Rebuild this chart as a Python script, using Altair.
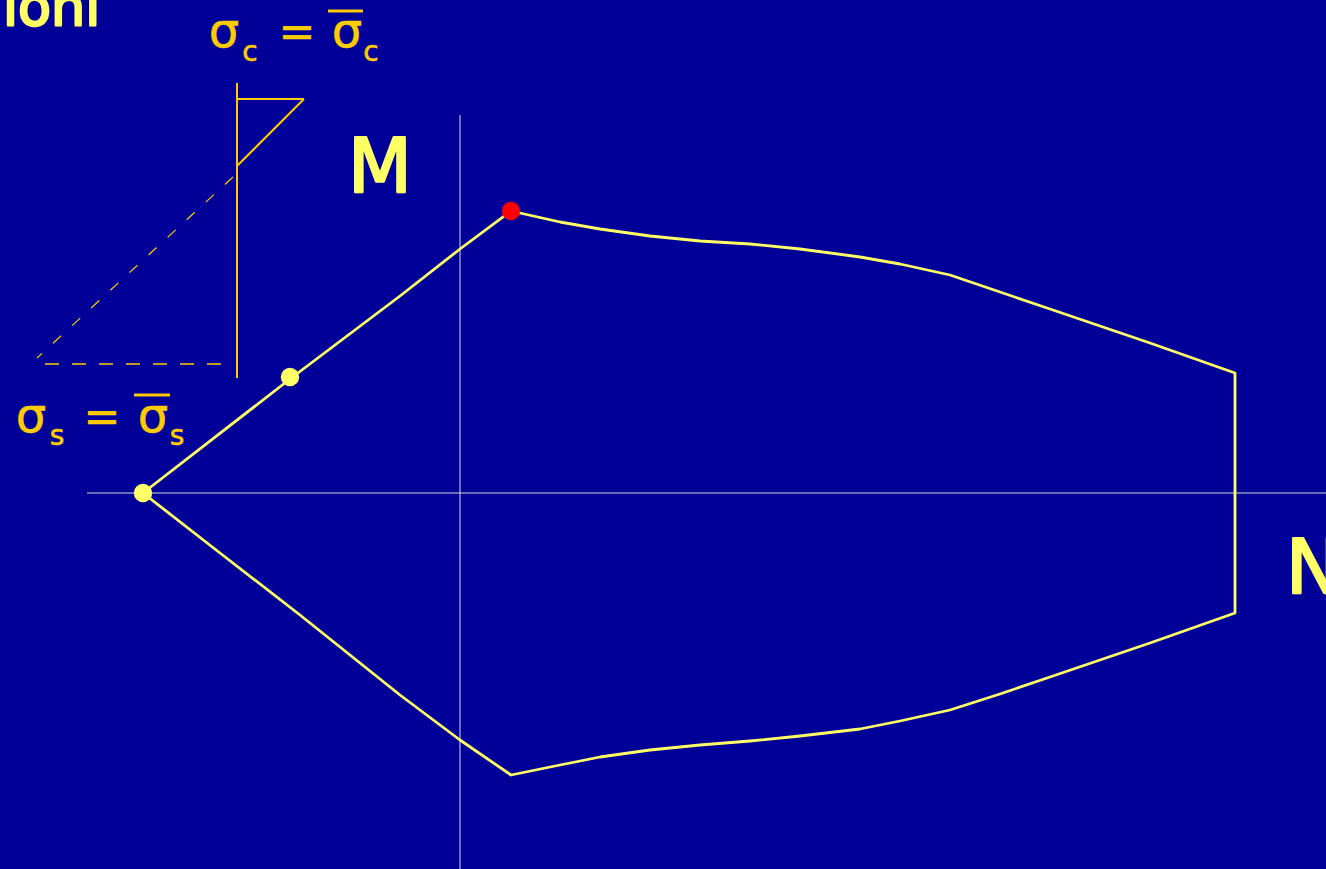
import altair as alt
import pandas as pd

# Interaction domain boundary in the (N, M) plane, walked clockwise from the
# pure-tension corner on the left
dom_n = [-3.17, -1.70, -0.60, 0.00, 0.51, 1.00, 1.40, 1.90, 2.40, 2.90, 3.40,
         4.00, 4.40, 4.90, 5.40, 5.90, 6.40, 6.90, 7.75, 7.75, 6.90, 6.40,
         5.90, 5.40, 4.90, 4.40, 4.00, 3.40, 2.90, 2.40, 1.90, 1.40, 1.00,
         0.51, 0.00, -0.60, -1.60, -2.40, -3.17]
dom_m = [0.00, 1.14, 1.97, 2.44, 2.82, 2.71, 2.64, 2.57, 2.52, 2.49, 2.44,
         2.36, 2.29, 2.18, 2.01, 1.84, 1.67, 1.50, 1.20, -1.20, -1.50, -1.67,
         -1.84, -2.01, -2.17, -2.28, -2.36, -2.43, -2.48, -2.52, -2.57, -2.64,
         -2.72, -2.82, -2.47, -2.02, -1.22, -0.60, 0.00]

# Marked states on the boundary
pt_n = [-3.17, -1.70, 0.51]
pt_m = [0.00, 1.16, 2.82]
pt_color = ["#FFFF66", "#FFFF66", "#FF0000"]

# Coordinate axes
ax_n1 = [-3.73, 0.00]
ax_n2 = [8.66, 0.00]
ax_m1 = [0.00, 3.78]
ax_m2 = [0.00, -3.76]

# Strain / stress sketch: solid segments
sol_n1 = [-2.23, -2.23, -1.56]
sol_m1 = [4.10, 3.94, 3.94]
sol_n2 = [-2.23, -1.56, -2.23]
sol_m2 = [1.15, 3.94, 3.27]

# Strain / stress sketch: dashed diagonal and dashed base line
dgl_n1, dgl_m1, dgl_n2, dgl_m2 = [-2.27], [3.16], [-4.23], [1.35]
bas_n1, bas_m1, bas_n2, bas_m2 = [-4.15], [1.29], [-2.28], [1.29]

# Overbars on the design strengths
bar_n1 = [-1.32, -3.26]
bar_n2 = [-0.97, -2.90]
bar_m = [4.82, 0.98]

# Labels
lbl_text = ["σ", "c", "=", "σ", "c", "σ", "s", "=", "σ", "s", "M", "N", "ioni"]
lbl_n = [-2.36, -2.10, -1.63, -1.13, -0.89, -4.29, -4.03, -3.58, -3.07, -2.83,
         -0.80, 8.26, -4.57]
lbl_m = [4.46, 4.32, 4.46, 4.46, 4.32, 0.61, 0.48, 0.61, 0.61, 0.48,
         3.01, -1.00, 4.68]
lbl_size = [48, 28, 44, 48, 28, 48, 28, 44, 48, 28, 74, 74, 54]
lbl_kind = ["small"] * 10 + ["big_c", "big_l", "big_l"]
lbl_color = ["#FFCC00"] * 10 + ["#FFFF66"] * 3

BG = "#000099"
W, H = 1326, 869

xs = alt.Scale(domain=[-4.60, 8.66], nice=False, zero=False)
ys = alt.Scale(domain=[-3.76, 4.93], nice=False, zero=False)
X = lambda f: alt.X(f, type="quantitative", scale=xs, axis=None)
Y = lambda f: alt.Y(f, type="quantitative", scale=ys, axis=None)


def seg(n1, m1, n2, m2):
    return pd.DataFrame({"n1": n1, "m1": m1, "n2": n2, "m2": m2})


dom = pd.DataFrame({"n": dom_n, "m": dom_m, "i": range(len(dom_n))})
pts = pd.DataFrame({"n": pt_n, "m": pt_m, "c": pt_color})
bars = pd.DataFrame({"n1": bar_n1, "n2": bar_n2, "m": bar_m})
lbl = pd.DataFrame({"t": lbl_text, "n": lbl_n, "m": lbl_m, "s": lbl_size,
                    "k": lbl_kind, "c": lbl_color})


def rules(df, **style):
    return alt.Chart(df).mark_rule(**style).encode(
        x=X("n1"), x2="n2", y=Y("m1"), y2="m2")


axis_layer = rules(seg(ax_n1, ax_m1, ax_n2, ax_m2), color="#D8D8D8", strokeWidth=1)

domain_layer = alt.Chart(dom).mark_line(
    color="#FFFF66", strokeWidth=2.8, strokeJoin="round").encode(
    x=X("n"), y=Y("m"), order="i:Q")

solid_layer = rules(seg(sol_n1, sol_m1, sol_n2, sol_m2), color="#FFCC00", strokeWidth=2)
diag_layer = rules(seg(dgl_n1, dgl_m1, dgl_n2, dgl_m2), color="#FFCC00",
                   strokeWidth=1.2, strokeDash=[11, 15])
base_layer = rules(seg(bas_n1, bas_m1, bas_n2, bas_m2), color="#FFCC00",
                   strokeWidth=1.5, strokeDash=[14, 13])

bar_layer = alt.Chart(bars).mark_rule(color="#FFCC00", strokeWidth=3).encode(
    x=X("n1"), x2="n2", y=Y("m"))

point_layer = alt.Chart(pts).mark_circle(size=340, opacity=1).encode(
    x=X("n"), y=Y("m"), color=alt.Color("c:N", scale=None))


def labels(kind, align, stroke_w):
    return alt.Chart(lbl[lbl["k"] == kind]).mark_text(
        align=align, baseline="alphabetic", font="DejaVu Sans",
        strokeWidth=stroke_w, strokeJoin="round").encode(
        x=X("n"), y=Y("m"), text="t:N",
        size=alt.Size("s:Q", scale=None),
        color=alt.Color("c:N", scale=None),
        stroke=alt.Stroke("c:N", scale=None))


chart = alt.layer(
    axis_layer, domain_layer, solid_layer, diag_layer, base_layer, bar_layer,
    point_layer,
    labels("small", "center", 0.6),
    labels("big_c", "center", 2.5),
    labels("big_l", "left", 2.5),
).properties(
    width=W, height=H, padding=0, background=BG,
    autosize=alt.AutoSizeParams(type="none")
).configure_view(stroke=None, fill=BG)

chart.save("out.html", embed_options={"renderer": "svg", "actions": False})
